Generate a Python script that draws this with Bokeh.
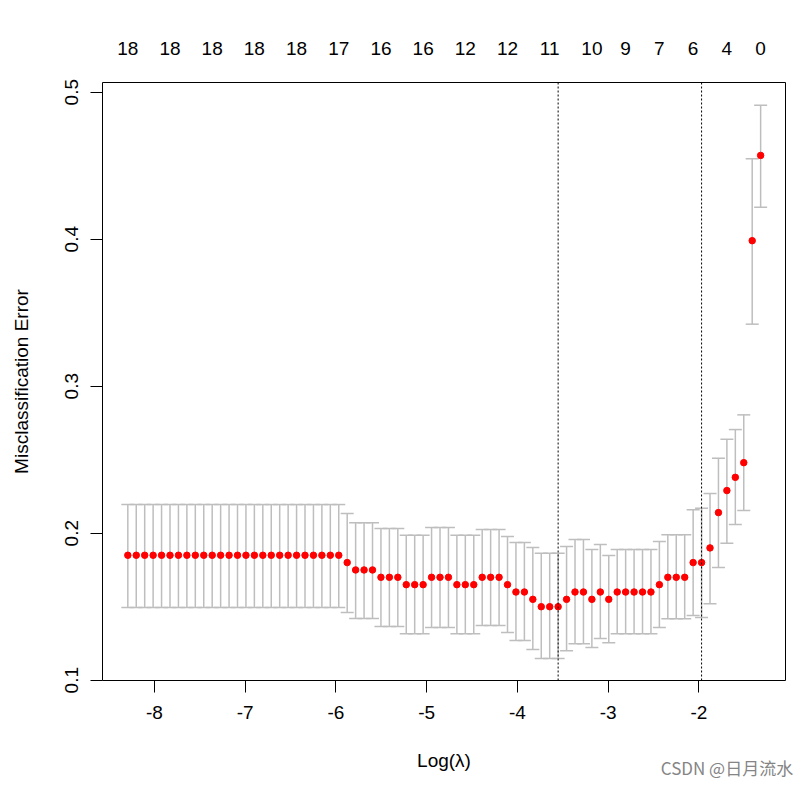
from bokeh.plotting import figure
from bokeh.models import (Range1d, FixedTicker, LinearAxis, Whisker, TeeHead,
                          Span, Label, ColumnDataSource)
from bokeh.embed import file_html
from bokeh.resources import INLINE

# ---- data (glmnet cross-validation curve) ----
log_lambda = [
    -8.294, -8.201, -8.108, -8.015, -7.922, -7.829, -7.736, -7.643, -7.550, -7.457,
    -7.364, -7.271, -7.178, -7.085, -6.992, -6.899, -6.806, -6.713, -6.620, -6.527,
    -6.434, -6.341, -6.248, -6.155, -6.062, -5.969, -5.876, -5.783, -5.690, -5.597,
    -5.504, -5.411, -5.318, -5.225, -5.132, -5.039, -4.946, -4.853, -4.760, -4.667,
    -4.574, -4.481, -4.388, -4.295, -4.202, -4.109, -4.016, -3.923, -3.830, -3.737,
    -3.644, -3.551, -3.458, -3.365, -3.272, -3.179, -3.086, -2.993, -2.900, -2.807,
    -2.714, -2.621, -2.528, -2.435, -2.342, -2.249, -2.156, -2.063, -1.970, -1.877,
    -1.784, -1.691, -1.598, -1.505, -1.412, -1.319,
]

cv_mean = [
    0.185, 0.185, 0.185, 0.185, 0.185, 0.185, 0.185, 0.185, 0.185, 0.185,
    0.185, 0.185, 0.185, 0.185, 0.185, 0.185, 0.185, 0.185, 0.185, 0.185,
    0.185, 0.185, 0.185, 0.185, 0.185, 0.185, 0.180, 0.175, 0.175, 0.175,
    0.170, 0.170, 0.170, 0.165, 0.165, 0.165, 0.170, 0.170, 0.170, 0.165,
    0.165, 0.165, 0.170, 0.170, 0.170, 0.165, 0.160, 0.160, 0.155, 0.150,
    0.150, 0.150, 0.155, 0.160, 0.160, 0.155, 0.160, 0.155, 0.160, 0.160,
    0.160, 0.160, 0.160, 0.165, 0.170, 0.170, 0.170, 0.180, 0.180, 0.190,
    0.214, 0.229, 0.238, 0.248, 0.399, 0.457,
]

cv_upper = [
    0.2195, 0.2195, 0.2195, 0.2195, 0.2195, 0.2195, 0.2195, 0.2195, 0.2195, 0.2195,
    0.2195, 0.2195, 0.2195, 0.2195, 0.2195, 0.2195, 0.2195, 0.2195, 0.2195, 0.2195,
    0.2195, 0.2195, 0.2195, 0.2195, 0.2195, 0.2195, 0.2134, 0.2071, 0.2071, 0.2071,
    0.2032, 0.2032, 0.2032, 0.1986, 0.1986, 0.1986, 0.2039, 0.2039, 0.2039, 0.1986,
    0.1986, 0.1986, 0.2025, 0.2025, 0.2025, 0.1978, 0.1937, 0.1937, 0.1903, 0.1864,
    0.1864, 0.1864, 0.1910, 0.1957, 0.1957, 0.1889, 0.1923, 0.1848, 0.1889, 0.1889,
    0.1889, 0.1889, 0.1889, 0.1944, 0.1989, 0.1989, 0.1989, 0.2159, 0.2170, 0.2270,
    0.2510, 0.2639, 0.2705, 0.2805, 0.4547, 0.4912,
]

cv_lower = [
    0.1495, 0.1495, 0.1495, 0.1495, 0.1495, 0.1495, 0.1495, 0.1495, 0.1495, 0.1495,
    0.1495, 0.1495, 0.1495, 0.1495, 0.1495, 0.1495, 0.1495, 0.1495, 0.1495, 0.1495,
    0.1495, 0.1495, 0.1495, 0.1495, 0.1495, 0.1495, 0.1461, 0.1420, 0.1420, 0.1420,
    0.1365, 0.1365, 0.1365, 0.1316, 0.1316, 0.1316, 0.1359, 0.1359, 0.1359, 0.1316,
    0.1316, 0.1316, 0.1372, 0.1372, 0.1372, 0.1324, 0.1270, 0.1270, 0.1209, 0.1148,
    0.1148, 0.1148, 0.1200, 0.1248, 0.1248, 0.1222, 0.1284, 0.1254, 0.1316, 0.1316,
    0.1316, 0.1316, 0.1316, 0.1359, 0.1418, 0.1418, 0.1418, 0.1440, 0.1427, 0.1520,
    0.1767, 0.1932, 0.2059, 0.2154, 0.3422, 0.4218,
]

# number of non-zero coefficients shown on the top axis (index into log_lambda)
nzero_index = [0, 5, 10, 15, 20, 25, 30, 35, 40, 45, 50, 55, 59, 63, 67, 71, 75]
nzero_label = ["18", "18", "18", "18", "18", "17", "16", "16", "12", "12",
               "11", "10", "9", "7", "6", "4", "0"]

x_ticks = [-8, -7, -6, -5, -4, -3, -2]
x_tick_labels = ["-8", "-7", "-6", "-5", "-4", "-3", "-2"]
y_ticks = [0.1, 0.2, 0.3, 0.4, 0.5]
y_tick_labels = ["0.1", "0.2", "0.3", "0.4", "0.5"]

x_label = "Log(λ)"
y_label = "Misclassification Error"
watermark = "CSDN @日月流水"

# lambda.min (largest lambda reaching the minimum) and lambda.1se
cv_min = min(cv_mean)
i_min = max(i for i, v in enumerate(cv_mean) if v == cv_min)
sd_min = (cv_upper[i_min] - cv_lower[i_min]) / 2
i_1se = max(i for i, v in enumerate(cv_mean) if v <= cv_min + sd_min)

# ---- figure ----
FONT = "Liberation Sans"
FS = "19px"

src = ColumnDataSource(dict(x=log_lambda, mean=cv_mean, upper=cv_upper, lower=cv_lower))

p = figure(width=811, height=785, output_backend="svg", toolbar_location=None,
           x_range=Range1d(-8.573, -1.045), y_range=Range1d(0.0998, 0.5066),
           min_border_left=102, min_border_right=26, min_border_top=82,
           min_border_bottom=105,
           x_axis_label=x_label, y_axis_label=y_label)
p.background_fill_color = "white"
p.border_fill_color = "white"
p.grid.visible = False
p.outline_line_color = "black"
p.outline_line_width = 1
p.outline_line_alpha = 1

grey = "#BEBEBE"
whisk = Whisker(source=src, base="x", upper="upper", lower="lower",
                dimension="height", line_color=grey, line_width=1.5,
                upper_head=TeeHead(size=13, line_color=grey, line_width=1.5),
                lower_head=TeeHead(size=13, line_color=grey, line_width=1.5))
p.add_layout(whisk)

for idx in (i_min, i_1se):
    p.add_layout(Span(location=log_lambda[idx], dimension="height",
                      line_color="black", line_width=1, line_dash="2 2"))

p.scatter("x", "mean", source=src, size=6.5, fill_color="red", line_color="red")

for ax in (p.xaxis[0], p.yaxis[0]):
    ax.axis_line_color = None
    ax.major_tick_out = 12
    ax.major_tick_in = 0
    ax.minor_tick_out = 0
    ax.minor_tick_in = 0
    ax.major_tick_line_color = "black"
    ax.major_label_text_font = FONT
    ax.major_label_text_font_size = FS
    ax.major_label_text_color = "black"
    ax.axis_label_text_font = FONT
    ax.axis_label_text_font_size = FS
    ax.axis_label_text_font_style = "normal"
    ax.axis_label_text_color = "black"

p.xaxis[0].ticker = FixedTicker(ticks=x_ticks)
p.xaxis[0].major_label_overrides = dict(zip(x_ticks, x_tick_labels))
p.xaxis[0].major_label_standoff = 13
p.xaxis[0].axis_label_standoff = 28

p.yaxis[0].ticker = FixedTicker(ticks=y_ticks)
p.yaxis[0].major_label_overrides = dict(zip(y_ticks, y_tick_labels))
p.yaxis[0].major_label_orientation = "vertical"
p.yaxis[0].major_label_standoff = 12
p.yaxis[0].axis_label_standoff = 31

top_ticks = [log_lambda[i] for i in nzero_index]
top = LinearAxis(ticker=FixedTicker(ticks=top_ticks),
                 major_label_overrides={t: s for t, s in zip(top_ticks, nzero_label)},
                 axis_line_color=None, major_tick_out=0, major_tick_in=0,
                 minor_tick_out=0, minor_tick_in=0,
                 major_label_text_font=FONT, major_label_text_font_size=FS,
                 major_label_text_color="black", major_label_standoff=28)
p.add_layout(top, "above")

# watermark placed in a side panel (top one has spare room) so that it is
# not clipped to the frame; its position is given in data units
p.add_layout(Label(x=-2.42, y=0.0406, text=watermark, text_baseline="middle",
                   text_font="Noto Sans CJK SC", text_font_size="17px",
                   text_color="#858585"), "above")

open("out.html", "w").write(file_html(p, INLINE))
